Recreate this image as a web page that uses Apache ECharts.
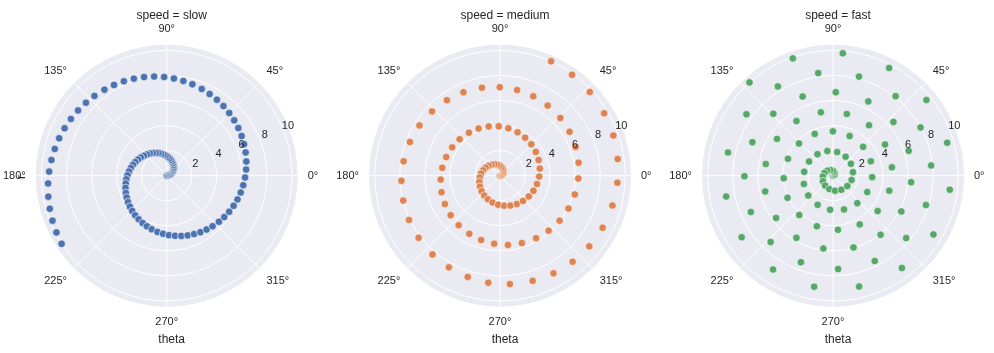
<!DOCTYPE html>
<html>
<head>
<meta charset="utf-8">
<script src="https://cdn.jsdelivr.net/npm/echarts@6/dist/echarts.min.js"></script>
<style>
	html, body { margin: 0; padding: 0; background: #fff; }
	#main { width: 994px; height: 353px; }
</style>
</head>
<body>
<div id="main"></div>
<script>
	// radius of each point (same for all three panels)
	var rValues = [0.00, 0.10, 0.20, 0.30, 0.40, 0.51, 0.61, 0.71, 0.81, 0.91,
		1.01, 1.11, 1.21, 1.31, 1.41, 1.52, 1.62, 1.72, 1.82, 1.92,
		2.02, 2.12, 2.22, 2.32, 2.42, 2.53, 2.63, 2.73, 2.83, 2.93,
		3.03, 3.13, 3.23, 3.33, 3.43, 3.54, 3.64, 3.74, 3.84, 3.94,
		4.04, 4.14, 4.24, 4.34, 4.44, 4.55, 4.65, 4.75, 4.85, 4.95,
		5.05, 5.15, 5.25, 5.35, 5.45, 5.56, 5.66, 5.76, 5.86, 5.96,
		6.06, 6.16, 6.26, 6.36, 6.46, 6.57, 6.67, 6.77, 6.87, 6.97,
		7.07, 7.17, 7.27, 7.37, 7.47, 7.58, 7.68, 7.78, 7.88, 7.98,
		8.08, 8.18, 8.28, 8.38, 8.48, 8.59, 8.69, 8.79, 8.89, 8.99,
		9.09, 9.19, 9.29, 9.39, 9.49, 9.60, 9.70, 9.80, 9.90, 10.00];

	// theta in radians, one list per panel
	var thetaSlow = [0.00, 0.10, 0.20, 0.30, 0.40, 0.51, 0.61, 0.71, 0.81, 0.91,
		1.01, 1.11, 1.21, 1.31, 1.41, 1.52, 1.62, 1.72, 1.82, 1.92,
		2.02, 2.12, 2.22, 2.32, 2.42, 2.53, 2.63, 2.73, 2.83, 2.93,
		3.03, 3.13, 3.23, 3.33, 3.43, 3.54, 3.64, 3.74, 3.84, 3.94,
		4.04, 4.14, 4.24, 4.34, 4.44, 4.55, 4.65, 4.75, 4.85, 4.95,
		5.05, 5.15, 5.25, 5.35, 5.45, 5.56, 5.66, 5.76, 5.86, 5.96,
		6.06, 6.16, 6.26, 6.36, 6.46, 6.57, 6.67, 6.77, 6.87, 6.97,
		7.07, 7.17, 7.27, 7.37, 7.47, 7.58, 7.68, 7.78, 7.88, 7.98,
		8.08, 8.18, 8.28, 8.38, 8.48, 8.59, 8.69, 8.79, 8.89, 8.99,
		9.09, 9.19, 9.29, 9.39, 9.49, 9.60, 9.70, 9.80, 9.90, 10.00];

	var thetaMedium = [0.00, 0.20, 0.40, 0.61, 0.81, 1.01, 1.21, 1.41, 1.62, 1.82,
		2.02, 2.22, 2.42, 2.63, 2.83, 3.03, 3.23, 3.43, 3.64, 3.84,
		4.04, 4.24, 4.44, 4.65, 4.85, 5.05, 5.25, 5.45, 5.66, 5.86,
		6.06, 6.26, 6.46, 6.67, 6.87, 7.07, 7.27, 7.47, 7.68, 7.88,
		8.08, 8.28, 8.48, 8.69, 8.89, 9.09, 9.29, 9.49, 9.70, 9.90,
		10.10, 10.30, 10.51, 10.71, 10.91, 11.11, 11.31, 11.52, 11.72, 11.92,
		12.12, 12.32, 12.53, 12.73, 12.93, 13.13, 13.33, 13.54, 13.74, 13.94,
		14.14, 14.34, 14.55, 14.75, 14.95, 15.15, 15.35, 15.56, 15.76, 15.96,
		16.16, 16.36, 16.57, 16.77, 16.97, 17.17, 17.37, 17.58, 17.78, 17.98,
		18.18, 18.38, 18.59, 18.79, 18.99, 19.19, 19.39, 19.60, 19.80, 20.00];

	var thetaFast = [0.00, 0.40, 0.81, 1.21, 1.62, 2.02, 2.42, 2.83, 3.23, 3.64,
		4.04, 4.44, 4.85, 5.25, 5.66, 6.06, 6.46, 6.87, 7.27, 7.68,
		8.08, 8.48, 8.89, 9.29, 9.70, 10.10, 10.51, 10.91, 11.31, 11.72,
		12.12, 12.53, 12.93, 13.33, 13.74, 14.14, 14.55, 14.95, 15.35, 15.76,
		16.16, 16.57, 16.97, 17.37, 17.78, 18.18, 18.59, 18.99, 19.39, 19.80,
		20.20, 20.61, 21.01, 21.41, 21.82, 22.22, 22.63, 23.03, 23.43, 23.84,
		24.24, 24.65, 25.05, 25.45, 25.86, 26.26, 26.67, 27.07, 27.47, 27.88,
		28.28, 28.69, 29.09, 29.49, 29.90, 30.30, 30.71, 31.11, 31.52, 31.92,
		32.32, 32.73, 33.13, 33.54, 33.94, 34.34, 34.75, 35.15, 35.56, 35.96,
		36.36, 36.77, 37.17, 37.58, 37.98, 38.38, 38.79, 39.19, 39.60, 40.00];

	var speeds = ['slow', 'medium', 'fast'];
	var colors = ['#4C72B0', '#DD8452', '#55A868'];
	var rTicks = [2, 4, 6, 8, 10];
	var rMax = 10.46;   // outer edge of the grey disk
	var rGrid = 10;     // last white ring

	var centers = [166.7, 500, 833];
	var cy = 175.7;
	var R = 131;
	var Rgrid = R * rGrid / rMax;
	var textC = '#262626';
	var font = '"Liberation Sans", Arial, sans-serif';

	function toPoints(theta) {
		var out = [];
		for(var i = 0; i < rValues.length; i++) {
			var deg = (theta[i] * 180 / Math.PI) % 360; // radians -> degrees
			out.push([rValues[i], deg]);
		}
		return out;
	}
	var allTheta = [thetaSlow, thetaMedium, thetaFast];

	var polar = [], angleAxis = [], radiusAxis = [], series = [], title = [];
	// polars 0-2: grey disk only (drawn lowest)
	centers.forEach(function(cx, i) {
		polar.push({ center: [cx, cy], radius: R });
		angleAxis.push({
			polarIndex: i, z: 0,
			type: 'value', min: 0, max: 360, interval: 45,
			startAngle: 0, clockwise: false,
			axisLine: { show: false },
			axisTick: { show: false },
			axisLabel: { show: false },
			splitLine: { show: false },
			splitArea: { show: true, areaStyle: { color: ['#EAEAF2'] } }
		});
		radiusAxis.push({ polarIndex: i, z: 0, type: 'value', min: 0, max: rMax, show: false });
	});
	// polars 3-5: radial white lines to the edge + angle labels
	centers.forEach(function(cx, i) {
		polar.push({ center: [cx, cy], radius: R });
		angleAxis.push({
			polarIndex: 3 + i, z: 2,
			type: 'value', min: 0, max: 360, interval: 45,
			startAngle: 0, clockwise: false,
			axisLine: { show: false },
			axisTick: { show: false },
			axisLabel: {
				margin: 10, color: textC, fontSize: 11, fontFamily: font,
				formatter: function(v) { return v === 360 ? '' : v + '°'; }
			},
			splitLine: { lineStyle: { color: '#fff', width: 1 } },
			splitArea: { show: false }
		});
		radiusAxis.push({ polarIndex: 3 + i, z: 2, type: 'value', min: 0, max: rMax, show: false });
	});
	// polars 6-8: white rings at 2..10 and the data
	centers.forEach(function(cx, i) {
		polar.push({ center: [cx, cy], radius: Rgrid });
		angleAxis.push({
			polarIndex: 6 + i, z: 2,
			type: 'value', min: 0, max: 360,
			startAngle: 0, clockwise: false,
			show: false
		});
		radiusAxis.push({
			polarIndex: 6 + i, z: 2,
			type: 'value', min: 0, max: rGrid, interval: 2,
			axisLine: { show: false },
			axisTick: { show: false },
			axisLabel: { show: false },
			splitLine: { lineStyle: { color: '#fff', width: 1 } }
		});
		series.push({
			type: 'scatter',
			coordinateSystem: 'polar',
			polarIndex: 6 + i,
			symbolSize: 7.5,
			itemStyle: { color: colors[i], borderColor: '#fff', borderWidth: 0.6, opacity: 1 },
			data: toPoints(allTheta[i]),
			z: 3
		});
		title.push({
			text: 'speed = ' + speeds[i],
			left: cx, top: 5, textAlign: 'center',
			textStyle: { color: textC, fontSize: 12, fontWeight: 'normal', fontFamily: font }
		});
		title.push({
			text: 'theta',
			left: cx, top: 329, textAlign: 'center',
			textStyle: { color: textC, fontSize: 12, fontWeight: 'normal', fontFamily: font }
		});
	});

	// polars 9-11: only the radial tick labels at 22.5°
	centers.forEach(function(cx, i) {
		polar.push({ center: [cx, cy], radius: [6, R + 6] });
		angleAxis.push({
			polarIndex: 9 + i,
			type: 'value', min: 0, max: 360,
			startAngle: 22.5, clockwise: false,
			show: false
		});
		radiusAxis.push({
			polarIndex: 9 + i,
			type: 'value', min: 0, max: rMax, interval: 2,
			z: 5,
			axisLine: { show: false },
			axisTick: { show: false },
			splitLine: { show: false },
			axisLabel: {
				margin: 0, align: 'center', verticalAlign: 'middle',
				color: textC, fontSize: 11, fontFamily: font,
				showMinLabel: false, showMaxLabel: false,
				formatter: function(v) { return rTicks.indexOf(v) >= 0 ? String(v) : ''; }
			}
		});
	});

	var myChart = echarts.init(document.getElementById('main'));
	myChart.setOption({
		animation: false,
		backgroundColor: '#fff',
		title: title,
		polar: polar,
		angleAxis: angleAxis,
		radiusAxis: radiusAxis,
		series: series,
		graphic: [{
			type: 'text',
			x: 22, y: 177, rotation: Math.PI / 2,
			style: { text: 'r', fill: textC, fontSize: 12, fontFamily: font, align: 'center', verticalAlign: 'middle' }
		}]
	});
</script>
</body>
</html>
